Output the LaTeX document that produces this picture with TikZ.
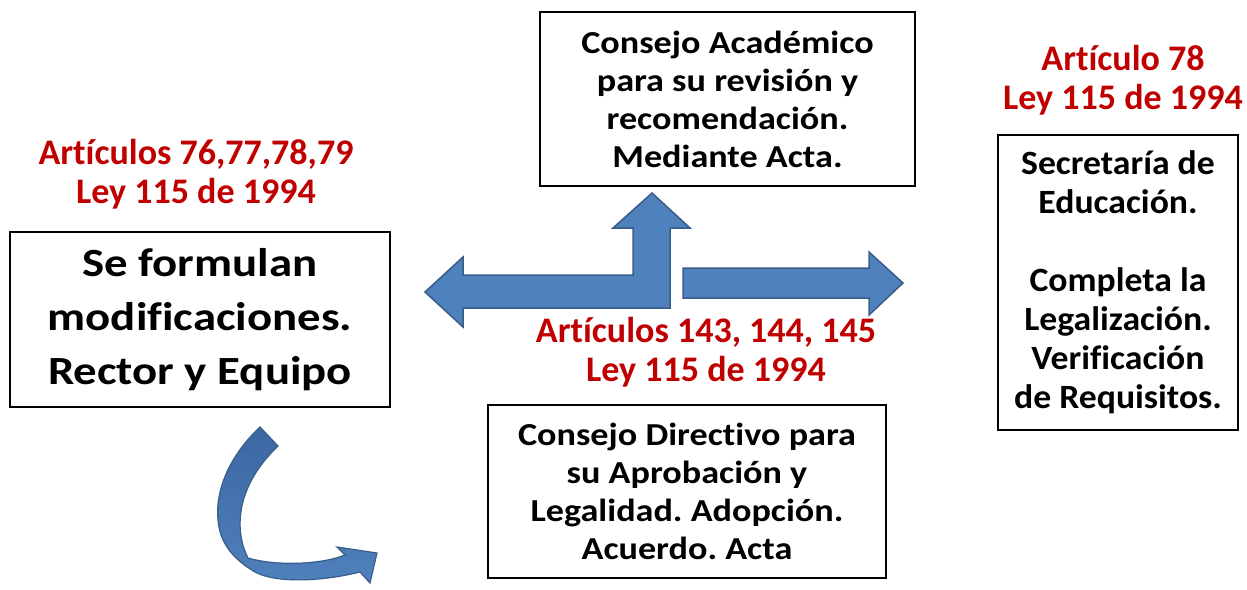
\documentclass[tikz,border=0pt]{standalone}
\usepackage{fontspec}
\setmainfont{Carlito}[RawFeature=-liga]
\newfontfamily\bigboxfont{Carlito}[FakeStretch=1.17,RawFeature=-liga]
\newfontfamily\midboxfont{Carlito}[FakeStretch=1.13,RawFeature=-liga]
\newfontfamily\sideboxfont{Carlito}[FakeStretch=1.05,RawFeature=-liga]
\definecolor{redtxt}{HTML}{C00000}
\definecolor{arrfill}{HTML}{4F81BD}
\definecolor{arrline}{HTML}{385D8A}
\definecolor{arrdark}{HTML}{3C67A1}
\frenchspacing
\begin{document}
\begin{tikzpicture}[x=1pt,y=-1pt,
  box/.style={draw=black,line width=1.6pt,align=center,inner sep=0pt,font=\midboxfont\bfseries\fontsize{32}{38}\selectfont},
  redlabel/.style={text=redtxt,align=center,inner sep=0pt,font=\bfseries\fontsize{36}{39}\selectfont},
  blockarrow/.style={fill=arrfill,draw=arrline,line width=1.5pt,line join=miter}]
\useasboundingbox (0,0) rectangle (1247,589);
% boxes
\node[box,minimum width=380,minimum height=175,font=\bigboxfont\bfseries\fontsize{40}{54}\selectfont] (formulan) at (200,319.5) {Se formulan\\modificaciones.\\Rector y Equipo};
\node[box,minimum width=375,minimum height=174] (academico) at (727.5,99) {Consejo Académico\\para su revisión y\\recomendación.\\Mediante Acta.};
\node[box,minimum width=398,minimum height=173] (directivo) at (687,491.5) {Consejo Directivo para\\su Aprobación y\\Legalidad. Adopción.\\Acuerdo. Acta};
\node[box,minimum width=240,minimum height=295,font=\sideboxfont\bfseries\fontsize{34}{39}\selectfont] (secretaria) at (1118,282.5) {Secretaría de\\Educación.\\[39pt]Completa la\\Legalización.\\Verificación\\de Requisitos.};
% red labels
\node[redlabel] (lab1) at (196,174) {Artículos 76,77,78,79\\Ley 115 de 1994};
\node[redlabel] (lab2) at (706,352) {Artículos 143, 144, 145\\Ley 115 de 1994};
\node[redlabel] (lab3) at (1123,80) {Artículo 78\\Ley 115 de 1994};
% left-up block arrow
\draw[blockarrow] (425,292) -- (463,257) -- (463,275) -- (633,275) -- (633,228) -- (613,228) -- (652,193) -- (690,228) -- (670,228) -- (670,308) -- (463,308) -- (463,327) -- cycle;
% right block arrow
\draw[blockarrow] (683,268) -- (869,268) -- (869,252) -- (903,283) -- (869,315) -- (869,298) -- (683,298) -- cycle;
% curved arrow
\draw[line width=1.2pt,draw=arrline,top color=arrdark,bottom color=arrfill,line join=miter]
 (260,427) .. controls (230,455) and (215,490) .. (218,520)
 .. controls (220,545) and (235,560) .. (255,572)
 .. controls (275,583) and (320,582) .. (360,572)
 -- (370,583) -- (377,553) -- (337,547) -- (345,555)
 .. controls (320,565) and (275,566) .. (248,558)
 .. controls (236,535) and (232,490) .. (278,446) -- cycle;
\end{tikzpicture}
\end{document}
